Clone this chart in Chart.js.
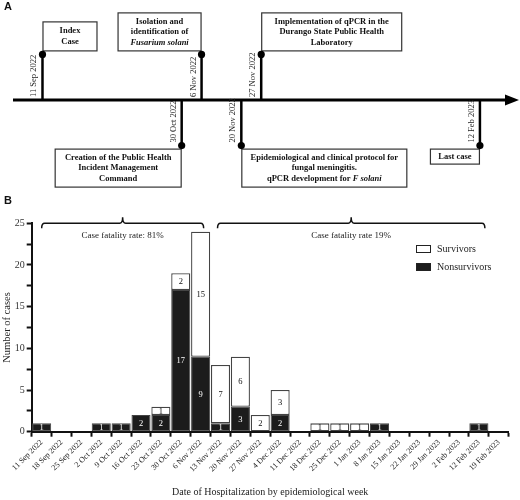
<!DOCTYPE html>
<html><head><meta charset="utf-8">
<script src="https://cdn.jsdelivr.net/npm/chart.js@4.4.1/dist/chart.umd.min.js"></script>
<style>
html,body{margin:0;padding:0;background:#fff;}
#wrap{position:relative;width:520px;height:500px;overflow:hidden;background:#fff;}
#cA{position:absolute;left:0;top:0;}
#cB{position:absolute;left:0;top:190px;}
</style></head><body>
<div id="wrap"><canvas id="cA" width="520" height="200"></canvas><canvas id="cB" width="520" height="310"></canvas></div>
<script>
// ---------- Panel A data (timeline) ----------
const eventDates = ['2022-09-11','2022-10-30','2022-11-06','2022-11-20','2022-11-27','2023-02-12'];
const eventDateLabels = ['11 Sep 2022','30 Oct 2022','6 Nov 2022','20 Nov 2022','27 Nov 2022','12 Feb 2023'];
const eventSide = [1,-1,1,-1,1,-1];
const eventTexts = [
  ['Index','Case'],
  ['Creation of the Public Health','Incident Management','Command'],
  ['Isolation and','identification of','*Fusarium solani*'],
  ['Epidemiological and clinical protocol for','fungal meningitis.','qPCR development for *F solani*'],
  ['Implementation of qPCR in the','Durango State Public Health','Laboratory'],
  ['Last case']
];

// ---------- Panel B data (epidemic curve) ----------
const weeks = ['11 Sep 2022','18 Sep 2022','25 Sep 2022','2 Oct 2022','9 Oct 2022','16 Oct 2022','23 Oct 2022','30 Oct 2022','6 Nov 2022','13 Nov 2022','20 Nov 2022','27 Nov 2022','4 Dec 2022','11 Dec 2022','18 Dec 2022','25 Dec 2022','1 Jan 2023','8 Jan 2023','15 Jan 2023','22 Jan 2023','29 Jan 2023','2 Feb 2023','12 Feb 2023','19 Feb 2023'];
const nonsurvivors = [1,0,0,1,1,2,2,17,9,1,3,0,2,0,0,0,0,1,0,0,0,0,1,0];
const survivors    = [0,0,0,0,0,0,1,2,15,7,6,2,3,0,1,1,1,0,0,0,0,0,0,0];
const yMajorTicks = [0,5,10,15,20,25];
const periodFrom = ['11 Sep 2022','13 Nov 2022'];
const periodTo = ['6 Nov 2022','12 Feb 2023'];
const periodText = ['Case fatality rate: 81%','Case fatality rate 19%'];

const SERIF = '"Liberation Serif","Times New Roman",serif';
const SANS = '"Liberation Sans",Arial,sans-serif';

// ---------- Panel A ----------
const DAY = 86400000;
const t0 = Date.parse(eventDates[0]);
const eventPoints = eventDates.map((d,i)=>({x:(Date.parse(d)-t0)/DAY, y:eventSide[i]}));
// box layout (style only): dir 1 = box extends right of stem, -1 = left
const boxStyle = [
  {dir:1, w:55, h:30},
  {dir:-1, w:127, h:39},
  {dir:-1, w:84, h:39},
  {dir:1, w:166, h:39},
  {dir:1, w:141, h:39},
  {dir:-1, w:50, h:16}
];

function drawRichLine(ctx, line, cx, cy, size){
  const parts = line.split('*');
  const fonts = parts.map((p,i)=> (i%2? 'italic bold ':'bold ') + size + 'px ' + SERIF);
  let total = 0;
  const widths = parts.map((p,i)=>{ctx.font=fonts[i]; const w=ctx.measureText(p).width; total+=w; return w;});
  let x = cx - total/2;
  ctx.textAlign='left'; ctx.textBaseline='middle';
  parts.forEach((p,i)=>{ctx.font=fonts[i]; ctx.fillText(p,x,cy); x+=widths[i];});
}

const timelinePlugin = {
  id:'timeline',
  beforeDatasetsDraw(chart){
    const ctx = chart.ctx, ys = chart.scales.y;
    const y0 = ys.getPixelForValue(0);
    ctx.save();
    // main axis with arrow
    ctx.strokeStyle='#000'; ctx.lineWidth=3;
    ctx.beginPath(); ctx.moveTo(13,y0); ctx.lineTo(508,y0); ctx.stroke();
    ctx.fillStyle='#000';
    ctx.beginPath(); ctx.moveTo(519,y0); ctx.lineTo(505,y0-5.5); ctx.lineTo(505,y0+5.5); ctx.closePath(); ctx.fill();
    const meta = chart.getDatasetMeta(0);
    meta.data.forEach((pt,i)=>{
      const x = pt.x, y = pt.y, up = eventSide[i] > 0;
      // stem
      ctx.strokeStyle='#000'; ctx.lineWidth=2.5;
      ctx.beginPath(); ctx.moveTo(x,y0); ctx.lineTo(x,y); ctx.stroke();
      // date label (rotated)
      ctx.save();
      ctx.fillStyle='#222';
      ctx.font = '8.5px ' + SERIF;
      const ay = up ? y0-3 : y-3;
      ctx.translate(x-4, ay);
      ctx.rotate(-Math.PI/2);
      ctx.textAlign='left'; ctx.textBaseline='bottom';
      ctx.fillText(eventDateLabels[i],0,0);
      ctx.restore();
      // box
      const bs = boxStyle[i];
      const bx = bs.dir>0 ? x : x - bs.w;
      const by = up ? y - 3 - bs.h : y + 3;
      ctx.fillStyle='#fff'; ctx.fillRect(bx,by,bs.w,bs.h);
      ctx.strokeStyle='#333'; ctx.lineWidth=1.2;
      ctx.strokeRect(bx+0.5,by+0.5,bs.w-1,bs.h-1);
      ctx.fillStyle='#111';
      const lines = eventTexts[i], lh = 10.5;
      const cy = by + bs.h/2 - (lines.length-1)*lh/2;
      lines.forEach((ln,k)=>drawRichLine(ctx, ln, bx+bs.w/2, cy+k*lh, 8.5));
    });
    // panel letter
    ctx.fillStyle='#111'; ctx.font='bold 11px '+SANS; ctx.textAlign='left'; ctx.textBaseline='middle';
    ctx.fillText('A',4,7);
    ctx.restore();
  }
};

new Chart(document.getElementById('cA'),{
  type:'scatter',
  data:{datasets:[{data:eventPoints, pointRadius:3.6, pointBackgroundColor:'#000', pointBorderColor:'#000', pointBorderWidth:0}]},
  options:{
    responsive:false, animation:false,
    layout:{padding:0},
    plugins:{legend:{display:false}, tooltip:{enabled:false}},
    scales:{
      x:{type:'linear', display:false, min:-13.55, max:166.7},
      y:{type:'linear', display:false, min:-2.105, max:2.105}
    }
  },
  plugins:[timelinePlugin]
});

// ---------- Panel B ----------
const valueLabelPlugin = {
  id:'valueLabels',
  afterDatasetsDraw(chart){
    const ctx = chart.ctx;
    ctx.save();
    ctx.font = '8.5px ' + SERIF; ctx.textAlign='center'; ctx.textBaseline='middle';
    chart.data.datasets.forEach((ds,di)=>{
      const meta = chart.getDatasetMeta(di);
      meta.data.forEach((bar,j)=>{
        const v = ds.data[j];
        if(!v) return;
        ctx.fillStyle = di===0 ? '#fff' : '#111';
        ctx.fillText(String(v), bar.x, (bar.y+bar.base)/2 + 0.5);
      });
    });
    ctx.restore();
  }
};

function drawBrace(ctx,x1,x2,y,hook,tip){
  const xm=(x1+x2)/2, r=3;
  ctx.beginPath();
  ctx.moveTo(x1,y+hook);
  ctx.quadraticCurveTo(x1,y,x1+r,y);
  ctx.lineTo(xm-r,y);
  ctx.quadraticCurveTo(xm,y,xm,y-tip);
  ctx.quadraticCurveTo(xm,y,xm+r,y);
  ctx.lineTo(x2-r,y);
  ctx.quadraticCurveTo(x2,y,x2,y+hook);
  ctx.stroke();
}
const braceOffsets = [[0,3],[-3,6]];

const annotPlugin = {
  id:'annot',
  afterDraw(chart){
    const ctx = chart.ctx, xs = chart.scales.x, ys = chart.scales.y;
    ctx.save();
    const by = ys.getPixelForValue(25);
    ctx.strokeStyle='#111'; ctx.lineWidth=1.5;
    periodText.forEach((t,i)=>{
      const x1 = xs.getPixelForValue(weeks.indexOf(periodFrom[i])) + braceOffsets[i][0];
      const x2 = xs.getPixelForValue(weeks.indexOf(periodTo[i])) + braceOffsets[i][1];
      drawBrace(ctx,x1,x2,by,5,6);
      ctx.fillStyle='#222'; ctx.font='9px '+SERIF; ctx.textAlign='center'; ctx.textBaseline='middle';
      ctx.fillText(t,(x1+x2)/2,by+12);
    });
    // legend (Survivors first)
    const order = [1,0];
    order.forEach((di,k)=>{
      const ds = chart.data.datasets[di];
      const lx = 416, ly = 55 + k*18;
      ctx.fillStyle = ds.backgroundColor; ctx.fillRect(lx,ly,15,8);
      ctx.strokeStyle = '#222'; ctx.lineWidth=1; ctx.strokeRect(lx+0.5,ly+0.5,14,7);
      ctx.fillStyle='#222'; ctx.font='10px '+SERIF; ctx.textAlign='left'; ctx.textBaseline='middle';
      ctx.fillText(ds.label, lx+21, ly+4);
    });
    ctx.fillStyle='#111'; ctx.font='bold 11px '+SANS; ctx.textAlign='left'; ctx.textBaseline='middle';
    ctx.fillText('B',4,11);
    ctx.restore();
  }
};

new Chart(document.getElementById('cB'),{
  type:'bar',
  data:{
    labels:weeks,
    datasets:[
      {label:'Nonsurvivors', data:nonsurvivors.map(v=>v||null), backgroundColor:'#1c1c1c', borderColor:'#444', borderWidth:1, borderSkipped:false, barPercentage:0.96, categoryPercentage:1},
      {label:'Survivors', data:survivors.map(v=>v||null), backgroundColor:'#ffffff', borderColor:'#444', borderWidth:1.3, borderSkipped:false, barPercentage:0.96, categoryPercentage:1}
    ]
  },
  options:{
    responsive:false, animation:false,
    layout:{padding:{top:33.3, right:11.3, left:0, bottom:0}},
    plugins:{legend:{display:false}, tooltip:{enabled:false}},
    scales:{
      x:{
        stacked:true, offset:true,
        grid:{display:true, drawOnChartArea:false, drawTicks:true, tickLength:5, tickWidth:2, tickColor:'#111'},
        border:{display:true, width:2, color:'#111'},
        ticks:{autoSkip:false, minRotation:45, maxRotation:45, padding:1, color:'#222', font:{family:SERIF, size:8}},
        title:{display:true, text:'Date of Hospitalization by epidemiological week', color:'#222', font:{family:SERIF, size:10}, padding:{top:0,bottom:2}},
        afterFit(s){ s.height = 68.3; }
      },
      y:{
        stacked:true, min:0, max:25,
        grid:{display:true, drawOnChartArea:false, drawTicks:true, tickLength:5, tickWidth:2, tickColor:'#111'},
        border:{display:true, width:2, color:'#111'},
        ticks:{stepSize:2.5, padding:2, color:'#333', font:{family:SERIF, size:10}, callback:(v)=> yMajorTicks.includes(v) ? String(v) : ''},
        title:{display:true, text:'Number of cases', color:'#222', font:{family:SERIF, size:10.5}, padding:{top:1,bottom:0}},
        afterFit(s){ s.width = 31.7; }
      }
    }
  },
  plugins:[valueLabelPlugin, annotPlugin]
});
</script>
</body></html>
